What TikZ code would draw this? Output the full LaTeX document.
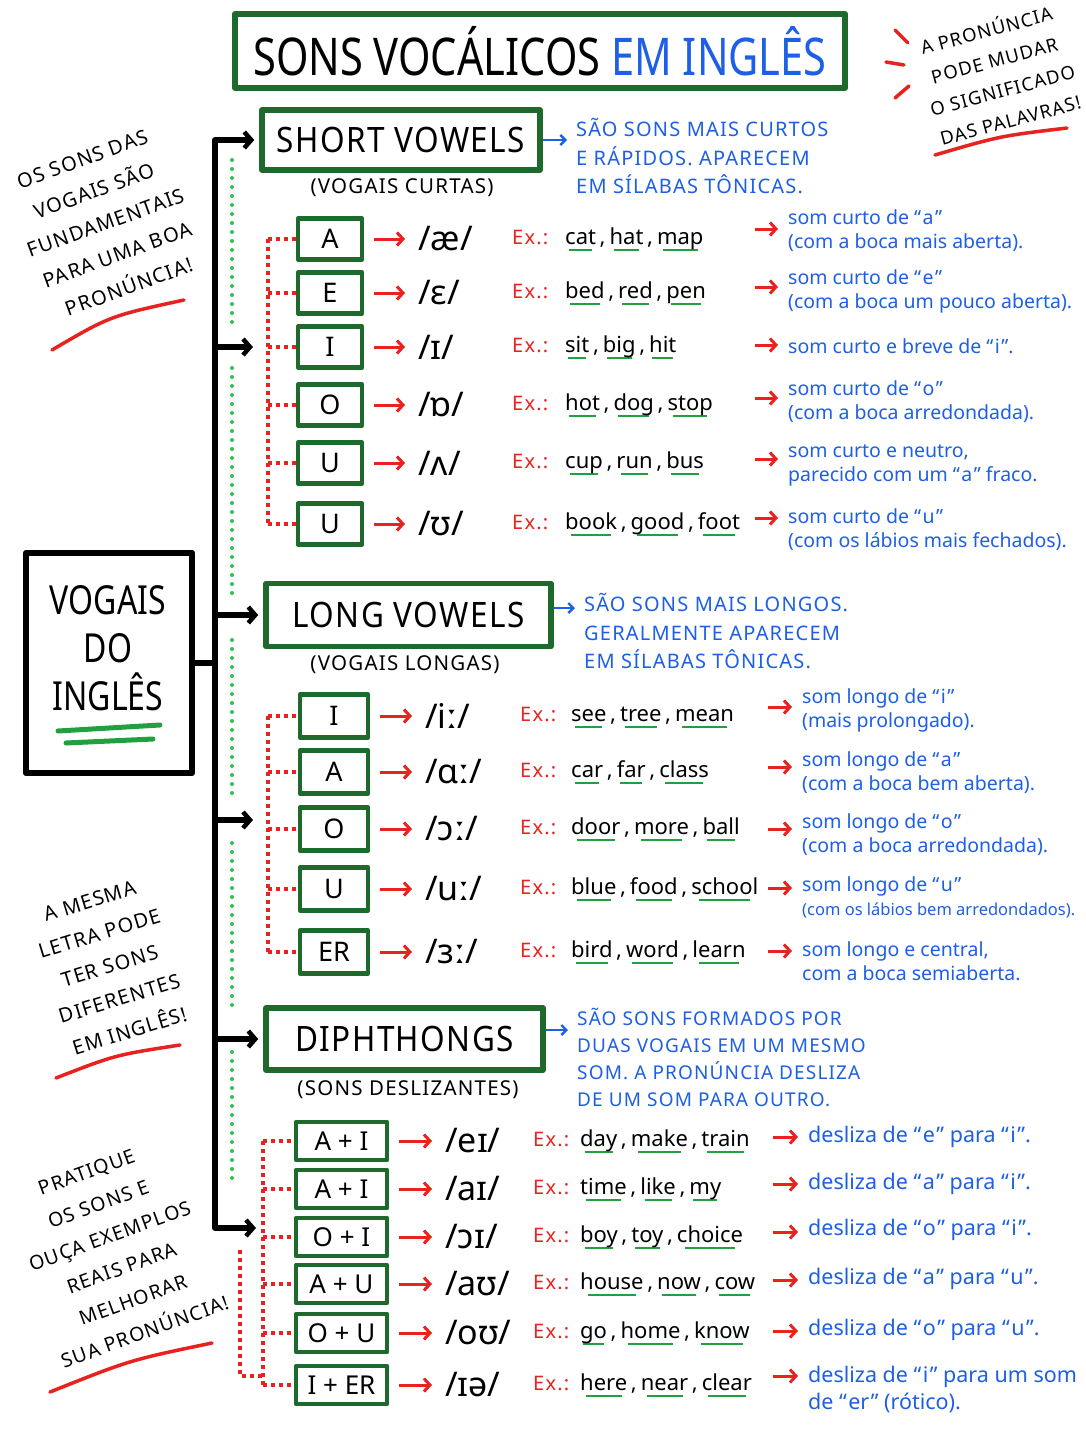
\documentclass[tikz,border=0pt]{standalone}
\usepackage{fontspec}
\setmainfont{Noto Sans}
\newfontfamily\narf[FakeStretch=0.8]{Noto Sans}
\newfontfamily\capf[LetterSpace=6]{Noto Sans}
\newfontfamily\hdrf[FakeStretch=0.9,LetterSpace=4]{Noto Sans}
\usetikzlibrary{arrows.meta}
\definecolor{boxgreen}{HTML}{1D6A2C}
\definecolor{ulgreen}{HTML}{22A040}
\definecolor{dotgreen}{HTML}{2FBF4F}
\definecolor{myred}{HTML}{E8221E}
\definecolor{myblue}{HTML}{1D5FE6}
\newcommand\gul[1]{\setbox0=\hbox{#1}\rlap{\kern0.12\wd0\textcolor{ulgreen}{\rule[-7pt]{0.76\wd0}{2.4pt}}}\box0}
\newcommand\cm{\,,\hspace{4pt}}
\newcommand\q[1]{“\kern1.5pt#1\kern1.5pt”}
% row: name, y, letter, ipa, words, description, description y, arrow y
\newcommand\vrow[8]{%
  \node[letterbox, minimum width=\bw, minimum height=\bh] (#1b) at (\bx,#2) {#3};
  \node[ipat] (#1i) at (\ix,#2) {#4};
  \node[exlbl] (#1e) at (\exx,#2+5) {Ex.:};
  \node[wordst] (#1w) at (\wx,#2+5) {#5};
  \node[dtext] (#1d) at (\dx,#7) {#6};
  \coordinate (#1a) at (\ax,#8);
  \draw[redarr] ([xshift=10pt]#1b.east) -- ([xshift=-13pt]#1i.west);
  \draw[redarr, shorten >=10pt] (#1a) -- (#1a -| #1d.west);
  \draw[reddot] (\rx,#2) -- (#1b.west);
}
\begin{document}
\begin{tikzpicture}[x=1pt,y=-1pt, every node/.style={inner sep=0pt},
 gbox/.style={draw=boxgreen, line width=5.5pt, line join=round},
 hdrbox/.style={gbox, font=\hdrf\fontsize{35}{40}\selectfont},
 letterbox/.style={draw=boxgreen, line width=4.5pt, line join=round, font=\fontsize{27}{30}\selectfont},
 ipat/.style={anchor=west, font=\fontsize{34}{38}\selectfont},
 exlbl/.style={anchor=base west, text=myred, font=\capf\fontsize{20}{24}\selectfont},
 wordst/.style={anchor=base west, font=\fontsize{22}{28}\selectfont},
 dtext/.style={anchor=west, align=left, text=myblue, font=\fontsize{19.5}{24}\selectfont},
 bluehdr/.style={anchor=west, align=left, text=myblue, font=\capf\fontsize{20}{28.5}\selectfont},
 subt/.style={font=\capf\fontsize{20.5}{24}\selectfont},
 notet/.style={align=center, font=\capf\fontsize{20}{34}\selectfont},
 redarr/.style={draw=myred, line width=3pt, -{Straight Barb[length=6pt,width=13pt]}},
 bluearr/.style={draw=myblue, line width=2.4pt, shorten >=9pt, -{Straight Barb[length=5pt,width=10pt]}},
 reddot/.style={draw=myred, line width=3.3pt, dash pattern=on 4pt off 4pt},
 greendot/.style={draw=dotgreen, line width=4pt, line cap=round, dash pattern=on 0pt off 9pt},
 trunk/.style={draw=black, line width=5.5pt, line cap=round, line join=round},
 tarr/.style={shorten >=5pt, -{Straight Barb[length=7pt,width=16pt,line width=4.5pt]}},
 redline/.style={draw=myred, line width=3.5pt, line cap=round},
 ulline/.style={draw=ulgreen, line width=5pt, line cap=round}]
\useasboundingbox (0,0) rectangle (1086,1448);
\fill[white] (0,0) rectangle (1086,1448);

% title
\node[gbox, minimum width=610, minimum height=74] (title) at (540,51)
  {\narf\bfseries\fontsize{52}{56}\selectfont SONS VOCÁLICOS \textcolor{myblue}{EM INGLÊS}};

% notes
\node[notet, rotate=15, font=\capf\fontsize{18.5}{31}\selectfont] (noteTR) at (998,74) {A PRONÚNCIA\\PODE MUDAR\\O SIGNIFICADO\\DAS PALAVRAS!};
\coordinate (uTRa) at (935,155); \coordinate (uTRb) at (1067,128);
\draw[redline] (uTRa) .. controls (1000,136) .. (uTRb);
\coordinate (m1a) at (895,30); \coordinate (m1b) at (908,43);
\coordinate (m2a) at (886,62); \coordinate (m2b) at (904,65);
\coordinate (m3a) at (895,98); \coordinate (m3b) at (909,86);
\draw[redline] (m1a) -- (m1b); \draw[redline] (m2a) -- (m2b); \draw[redline] (m3a) -- (m3b);

\node[notet, rotate=20] (noteL1) at (106,223) {OS SONS DAS\\VOGAIS SÃO\\FUNDAMENTAIS\\PARA UMA BOA\\PRONÚNCIA!};
\coordinate (uL1a) at (52,350); \coordinate (uL1b) at (184,300);
\draw[redline] (uL1a) .. controls (110,316) .. (uL1b);

\node[notet, rotate=17] (noteL2) at (110,966) {A MESMA\\LETRA PODE\\TER SONS\\DIFERENTES\\EM INGLÊS!};
\coordinate (uL2a) at (56,1078); \coordinate (uL2b) at (180,1045);
\draw[redline] (uL2a) .. controls (115,1055) .. (uL2b);

\node[notet, rotate=20, font=\capf\fontsize{19.5}{34}\selectfont] (noteL3) at (116,1252) {PRATIQUE\\OS SONS E\\OUÇA EXEMPLOS\\REAIS PARA\\MELHORAR\\SUA PRONÚNCIA!};
\coordinate (uL3a) at (50,1392); \coordinate (uL3b) at (212,1343);
\draw[redline] (uL3a) .. controls (130,1360) .. (uL3b);

% main box
\node[draw=black, line width=6.5pt, line join=round, minimum width=166, minimum height=220] (main) at (109,663) {};
\node[align=center, font=\narf\fontsize{40}{48}\selectfont] (maintext) at (108,648) {VOGAIS\\DO\\INGLÊS};
\coordinate (g1a) at (58,731); \coordinate (g1b) at (160,725);
\coordinate (g2a) at (66,743); \coordinate (g2b) at (153,739);
\draw[ulline] (g1a) -- (g1b); \draw[ulline] (g2a) -- (g2b);

% headers
\node[hdrbox, minimum width=278, minimum height=60] (short) at (401,140) {SHORT VOWELS};
\node[subt] (shortsub) at (402,188) {(VOGAIS CURTAS)};
\node[bluehdr] (shortnote) at (576,156.5) {SÃO SONS MAIS CURTOS\\E RÁPIDOS. APARECEM\\EM SÍLABAS TÔNICAS.};
\draw[bluearr] (short.east) -- (short.east -| shortnote.west);

\node[hdrbox, minimum width=285, minimum height=63] (long) at (408.5,615) {LONG VOWELS};
\node[subt] (longsub) at (405,665) {(VOGAIS LONGAS)};
\node[bluehdr] (longnote) at (584,631.5) {SÃO SONS MAIS LONGOS.\\GERALMENTE APARECEM\\EM SÍLABAS TÔNICAS.};
\draw[bluearr] ([yshift=7pt]long.east) -- ([yshift=7pt]long.east -| longnote.west);

\node[hdrbox, minimum width=277, minimum height=62] (diph) at (404.5,1039) {DIPHTHONGS};
\node[subt] (diphsub) at (408,1090) {(SONS DESLIZANTES)};
\node[bluehdr, font=\capf\fontsize{19}{27}\selectfont] (diphnote) at (577,1057.5) {SÃO SONS FORMADOS POR\\DUAS VOGAIS EM UM MESMO\\SOM. A PRONÚNCIA DESLIZA\\DE UM SOM PARA OUTRO.};
\draw[bluearr] ([yshift=9pt]diph.east) -- ([yshift=9pt]diph.east -| diphnote.west);

% trunk
\coordinate (tTop) at (215,140);
\coordinate (tMid) at (215,663);
\coordinate (tBot) at (215,1228);
\coordinate (c2) at (253,347); \coordinate (c4) at (253,820); \coordinate (c6) at (256,1228);
\draw[trunk] (main.east) -- (tMid);
\draw[trunk, tarr] (tMid) -- (tTop) -- (short.west);
\draw[trunk, tarr, shorten >=0pt] (tMid) -- (tBot) -- (c6);
\draw[trunk, tarr, shorten >=0pt] (c2 -| tTop) -- (c2);
\draw[trunk, tarr] (long.west -| tTop) -- (long.west);
\draw[trunk, tarr, shorten >=0pt] (c4 -| tTop) -- (c4);
\draw[trunk, tarr] (diph.west -| tTop) -- (diph.west);

% green dotted guides
\coordinate (d1a) at (232,160); \coordinate (d1b) at (232,328);
\coordinate (d2a) at (232,368); \coordinate (d2b) at (232,595);
\coordinate (d3a) at (232,640); \coordinate (d3b) at (232,797);
\coordinate (d4a) at (232,843); \coordinate (d4b) at (232,1005);
\coordinate (d5a) at (232,1052); \coordinate (d5b) at (232,1182);
\draw[greendot] (d1a) -- (d1b); \draw[greendot] (d2a) -- (d2b);
\draw[greendot] (d3a) -- (d3b); \draw[greendot] (d4a) -- (d4b);
\draw[greendot] (d5a) -- (d5b);

% short vowels
\def\bx{330}\def\bw{64}\def\bh{41}\def\ix{418}\def\exx{512}\def\wx{565}\def\dx{788}\def\ax{755}\def\rx{268}
\coordinate (rs1) at (268,239); \coordinate (rs2) at (268,524);
\draw[reddot] (rs1) -- (rs2);
\vrow{s1}{239}{A}{/æ/}{\gul{cat}\cm\gul{hat}\cm\gul{map}}{som curto de \q{a}\\(com a boca mais aberta).}{231}{229}
\vrow{s2}{293}{E}{/ɛ/}{\gul{bed}\cm\gul{red}\cm\gul{pen}}{som curto de \q{e}\\(com a boca um pouco aberta).}{291.5}{287}
\vrow{s3}{347}{I}{/ɪ/}{\gul{sit}\cm\gul{big}\cm\gul{hit}}{som curto e breve de \q{i}.}{346}{345}
\vrow{s4}{405}{O}{/ɒ/}{\gul{hot}\cm\gul{dog}\cm\gul{stop}}{som curto de \q{o}\\(com a boca arredondada).}{401.5}{398}
\vrow{s5}{463}{U}{/ʌ/}{\gul{cup}\cm\gul{run}\cm\gul{bus}}{som curto e neutro,\\parecido com um \q{a} fraco.}{465}{459}
\vrow{s6}{524}{U}{/ʊ/}{\gul{book}\cm\gul{good}\cm\gul{foot}}{som curto de \q{u}\\(com os lábios mais fechados).}{530}{518}

% long vowels
\def\bx{334}\def\bw{68}\def\bh{43}\def\ix{425}\def\exx{520}\def\wx{571}\def\dx{802}\def\ax{768}\def\rx{268}
\coordinate (rl1) at (268,716); \coordinate (rl2) at (268,952);
\draw[reddot] (rl1) -- (rl2);
\vrow{l1}{716}{I}{/iː/}{\gul{see}\cm\gul{tree}\cm\gul{mean}}{som longo de \q{i}\\(mais prolongado).}{710}{707}
\vrow{l2}{772}{A}{/ɑː/}{\gul{car}\cm\gul{far}\cm\gul{class}}{som longo de \q{a}\\(com a boca bem aberta).}{772.5}{767}
\vrow{l3}{829}{O}{/ɔː/}{\gul{door}\cm\gul{more}\cm\gul{ball}}{som longo de \q{o}\\(com a boca arredondada).}{834.5}{829}
\vrow{l4}{889}{U}{/uː/}{\gul{blue}\cm\gul{food}\cm\gul{school}}{som longo de \q{u}\\{\fontsize{16.5}{20}\selectfont(com os lábios bem arredondados).}}{897}{888}
\vrow{l5}{952}{ER}{/ɜː/}{\gul{bird}\cm\gul{word}\cm\gul{learn}}{som longo e central,\\com a boca semiaberta.}{961}{951}

% diphthongs
\def\bx{341.5}\def\bw{91}\def\bh{38}\def\ix{445}\def\exx{533}\def\wx{580}\def\dx{808}\def\ax{773}\def\rx{263}
\coordinate (rd1) at (263,1141); \coordinate (rd2) at (263,1385);
\coordinate (rd3) at (240,1250); \coordinate (rd4) at (240,1376); \coordinate (rd5) at (263,1376);
\draw[reddot] (rd1) -- (rd2);
\draw[reddot] (rd3) -- (rd4) -- (rd5);
\tikzset{letterbox/.append style={font=\fontsize{26}{30}\selectfont}, dtext/.append style={font=\fontsize{21.5}{27}\selectfont}, wordst/.append style={font=\fontsize{22}{27}\selectfont}}
\vrow{p1}{1141}{A + I}{/eɪ/}{\gul{day}\cm\gul{make}\cm\gul{train}}{desliza de \q{e} para \q{i}.}{1137}{1137}
\vrow{p2}{1189}{A + I}{/aɪ/}{\gul{time}\cm\gul{like}\cm\gul{my}}{desliza de \q{a} para \q{i}.}{1184}{1184}
\vrow{p3}{1237}{O + I}{/ɔɪ/}{\gul{boy}\cm\gul{toy}\cm\gul{choice}}{desliza de \q{o} para \q{i}.}{1230}{1232}
\vrow{p4}{1284}{A + U}{/aʊ/}{\gul{house}\cm\gul{now}\cm\gul{cow}}{desliza de \q{a} para \q{u}.}{1279}{1280}
\vrow{p5}{1333}{O + U}{/oʊ/}{\gul{go}\cm\gul{home}\cm\gul{know}}{desliza de \q{o} para \q{u}.}{1330}{1331}
\vrow{p6}{1385}{I + ER}{/ɪə/}{\gul{here}\cm\gul{near}\cm\gul{clear}}{desliza de \q{i} para um som\\de \q{er} (rótico).}{1389.5}{1376}
\end{tikzpicture}
\end{document}
